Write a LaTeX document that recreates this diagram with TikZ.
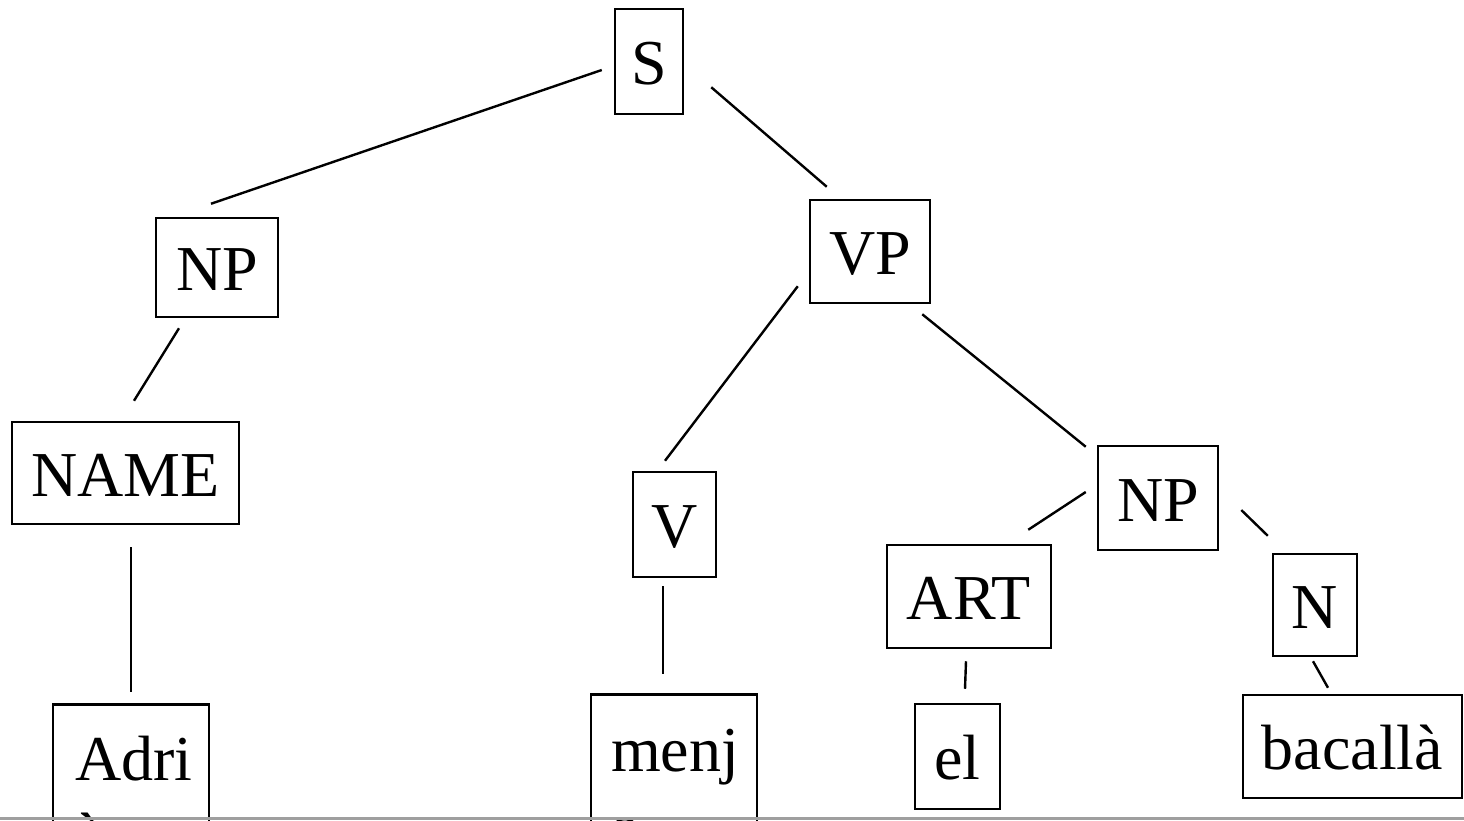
\documentclass[tikz,border=0pt]{standalone}
\usepackage{fontspec}
\setmainfont{Liberation Serif}
\usetikzlibrary{calc}
\begin{document}
\begin{tikzpicture}[x=1pt,y=-1pt,
  every node/.style={font=\fontsize{64}{76.8}\selectfont},
  box/.style={draw,line width=2.5pt,inner sep=0pt,minimum width=#1},
  onebox/.style={box=#1,text height=46pt,text depth=0pt},
  edge/.style={line width=2.4pt}]
\useasboundingbox (0,0) rectangle (1464,820);
\clip (0,0) rectangle (1464,820);

% constituent boxes
\node[onebox=68,minimum height=105]  (S)    at (649,61.5)   {S};
\node[onebox=122,minimum height=99]  (NPl)  at (217,267.5)  {NP};
\node[onebox=120,minimum height=103] (VP)   at (870,251.5)  {VP};
\node[onebox=227,minimum height=102] (NAME) at (125.5,473)  {NAME};
\node[onebox=83,minimum height=105]  (V)    at (674.5,524.5){V};
\node[onebox=120,minimum height=104] (NPr)  at (1158,498)   {NP};
\node[onebox=164,minimum height=103] (ART)  at (969,596.5)  {ART};
\node[onebox=84,minimum height=102]  (N)    at (1315,605)   {N};

% word boxes
\node[box=156,minimum height=185,anchor=north,align=left] (adria) at (131,703)
  {\hspace*{6pt}Adri\\\hspace*{6pt}à};
\node[box=166,minimum height=190,anchor=north,align=left] (menja) at (674,693)
  {\hspace*{2pt}menj\\\hspace*{2pt}a};
\node[onebox=85,minimum height=105]  (el)   at (957.5,756.5){el};
\node[onebox=219,minimum height=103] (bac)  at (1352.5,746.5){bacallà};

% branches
\draw[edge] ([shift={(-12,8.5)}]S.west) -- ([shift={(-6,-13)}]NPl.north);
\draw[edge] ([shift={(27,-28)}]S.south east) -- ([shift={(18,-12)}]VP.north west);
\draw[edge] ([shift={(-38,10)}]NPl.south) -- ([shift={(8.5,-20)}]NAME.north);
\draw[edge] ([shift={(-11,-18)}]VP.south west) -- ([shift={(-9.5,-10)}]V.north);
\draw[edge] ([shift={(-9,10)}]VP.south east) -- ([shift={(-11,2)}]NPr.north west);
\draw[edge] ([shift={(5.5,22)}]NAME.south) -- ([shift={(0,-11)}]adria.north);
\draw[edge] ([shift={(-11.5,8)}]V.south) -- ([shift={(-11,-19)}]menja.north);
\draw[edge] ([shift={(-11,-6)}]NPr.west) -- ([shift={(-24,-14)}]ART.north east);
\draw[edge] ([shift={(22,12)}]NPr.east) -- ([shift={(-4,-17)}]N.north west);
\draw[edge] ([shift={(-3,12)}]ART.south) -- ([shift={(7.5,-14)}]el.north);
\draw[edge] ([shift={(-2,4)}]N.south) -- ([shift={(-24.5,-6)}]bac.north);

% lower page edge
\draw[gray!75,line width=2.5pt] (0,818.5) -- (1464,818.5);
\end{tikzpicture}
\end{document}
